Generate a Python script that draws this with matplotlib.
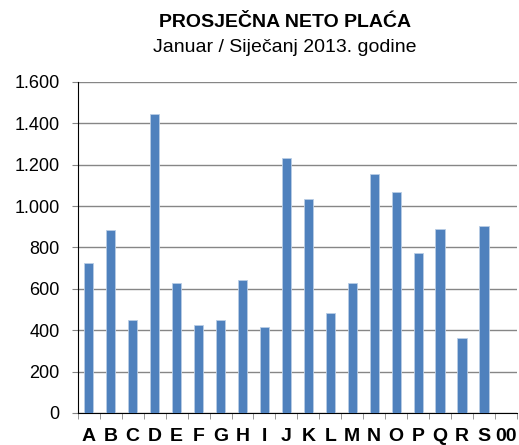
import matplotlib
matplotlib.use("Agg")
import matplotlib.pyplot as plt
from matplotlib.ticker import FuncFormatter, MultipleLocator, FixedLocator

plt.rcParams['font.family'] = ['Liberation Sans', 'DejaVu Sans']

categories = ['A', 'B', 'C', 'D', 'E', 'F', 'G', 'H', 'I', 'J', 'K', 'L', 'M', 'N', 'O', 'P', 'Q', 'R', 'S', '00']
values = [725, 885, 449, 1444, 628, 425, 449, 643, 416, 1234, 1033, 483, 627, 1155, 1068, 773, 889, 363, 902, 0]

fig = plt.figure(figsize=(5.19, 4.45), dpi=100)
ax = fig.add_axes([0.150, 0.072, 0.846, 0.744])

x = list(range(len(categories)))
ax.bar(x, values, width=0.42, color='#4F81BD', edgecolor='#B9CDE5', linewidth=0.6, zorder=3)

ax.set_xlim(-0.5, len(categories) - 0.5)
ax.set_ylim(0, 1600)
ax.yaxis.set_major_locator(MultipleLocator(200))
ax.yaxis.set_major_formatter(FuncFormatter(lambda v, p: f"{int(v):,}".replace(',', '.')))
ax.grid(axis='y', color='#868686', linewidth=1.0, zorder=0)

ax.set_xticks(x)
ax.set_xticklabels(categories, fontweight='bold', fontsize=14)
ax.xaxis.set_minor_locator(FixedLocator([i - 0.5 for i in range(len(categories) + 1)]))
ax.tick_params(axis='x', which='major', length=0, pad=11)
ax.tick_params(axis='x', which='minor', length=4, color='#868686', direction='out')
ax.tick_params(axis='y', length=4, color='#868686', labelsize=13, pad=9)

for s in ['top', 'right']:
    ax.spines[s].set_visible(False)
ax.spines['left'].set_color('black')
ax.spines['bottom'].set_color('black')

fig.text(0.549, 0.950, 'PROSJEČNA NETO PLAĆA', ha='center', va='center', fontsize=14, fontweight='bold')
fig.text(0.549, 0.894, 'Januar / Siječanj 2013. godine', ha='center', va='center', fontsize=14)

fig.savefig('out.png', dpi=100)
